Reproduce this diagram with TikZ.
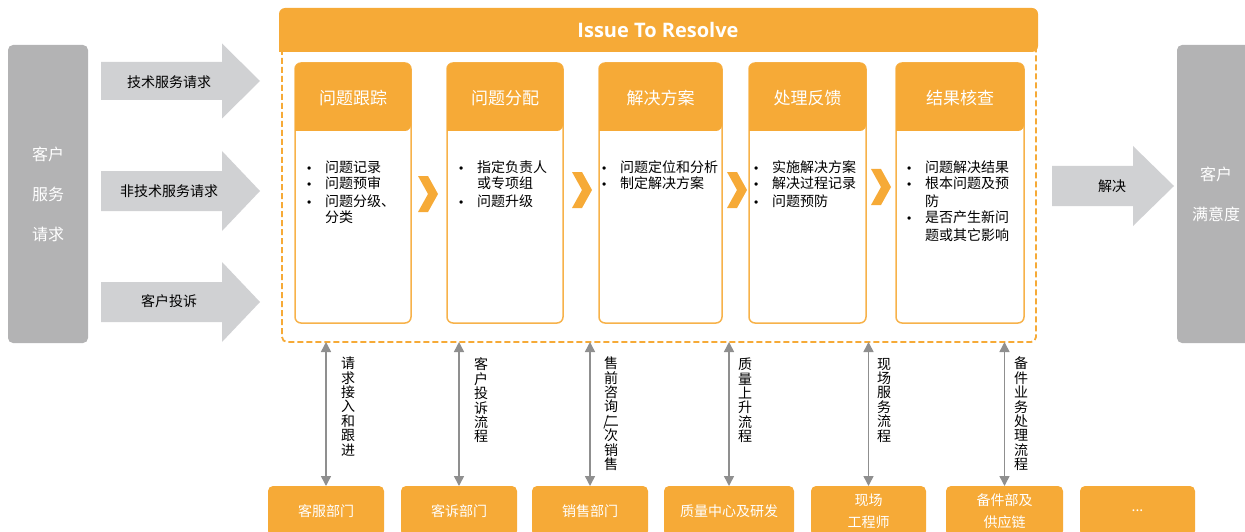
\documentclass[tikz,border=0pt]{standalone}
\usepackage{fontspec}
\setmainfont{Noto Sans CJK SC}
\newfontfamily\titlefont{Open Sans}
\newfontfamily\bulfont{Liberation Sans}
\usetikzlibrary{arrows.meta}
\definecolor{org}{HTML}{F6AA37}
\definecolor{orgline}{HTML}{F7B24A}
\definecolor{gbox}{HTML}{B3B3B4}
\definecolor{garrow}{HTML}{D0D1D3}
\definecolor{darr}{HTML}{8F8F8F}
\newcommand\bul{\makebox[17pt][l]{\hspace{-1pt}\bulfont\fontsize{12}{17}\selectfont\textbullet}}
\newcommand\nob{\makebox[17pt][l]{}}
\newcommand\blockarr[6]{\fill[garrow] (#1,#2-#4) -- (#3,#2-#4) -- (#3,#2-#5) -- (#6,#2) -- (#3,#2+#5) -- (#3,#2+#4) -- (#1,#2+#4) -- cycle;}
\newcommand\chev[2]{\fill[org] (#1,#2) -- ++(10,0) -- ++(10,18) -- ++(-10,18) -- ++(-10,0) -- ++(10,-18) -- cycle;}
\newcommand\cardhead[2]{\fill[org] (#1,131) [rounded corners=6pt] -- (#1,63) -- (#2,63) -- (#2,131) [sharp corners] -- cycle;}
\begin{document}
\begin{tikzpicture}[x=1pt,y=-1pt,
  every node/.style={inner sep=0pt, outer sep=0pt},
  sidebox/.style={fill=gbox, rounded corners=5pt, minimum width=80pt, minimum height=298pt, text=white, align=center, font=\fontsize{16}{40}\selectfont},
  alabel/.style={font=\fontsize{14}{17}\selectfont},
  card/.style={anchor=north west, minimum height=260pt, draw=orgline, line width=1.5pt, fill=white, rounded corners=6pt},
  ctitle/.style={text=white, font=\fontsize{17}{20}\selectfont},
  body/.style={anchor=base west, font=\fontsize{14}{17}\selectfont},
  vlab/.style={anchor=north, align=center, font=\fontsize{14}{14.4}\selectfont},
  dept/.style={anchor=north, fill=org, rounded corners=5pt, minimum height=50pt, text=white, align=center, font=\fontsize{14}{22}\selectfont},
  dbl/.style={draw=darr, line width=1.5pt, {Triangle[width=10pt,length=10pt]}-{Triangle[width=10pt,length=10pt]}}
]
\useasboundingbox (0,0) rectangle (1245,532);

% side boxes
\node[sidebox] (cust) at (48,194) {客户\\服务\\请求};
\node[sidebox, minimum width=78pt] (sat) at (1216,194) {客户\\满意度};

% input block arrows
\blockarr{101}{81}{222}{19}{37.5}{260}
\blockarr{101}{191}{222}{20}{40}{260}
\blockarr{101}{302}{222}{20}{40}{260}
\node[alabel] (a1) at (169,82) {技术服务请求};
\node[alabel] (a2) at (169,191) {非技术服务请求};
\node[alabel] (a3) at (169,301) {客户投诉};

% output block arrow
\blockarr{1052}{186}{1133}{20}{40}{1174}
\node[alabel] (a4) at (1112,186) {解决};

% frame and header
\draw[org, line width=1.8pt, dash pattern=on 6pt off 3pt, rounded corners=5pt] (282,40) -- (282,342) -- (1036,342) -- (1036,40);
\coordinate (fb) at (660,342);
\fill[org] (279,52) [rounded corners=6pt] -- (279,8) -- (1038,8) -- (1038,52) [sharp corners] -- cycle;
\node[text=white, font=\titlefont\bfseries\fontsize{20}{24}\selectfont] (hdr) at (658,30) {Issue To Resolve};

% cards
\node[card, minimum width=116pt] (c1) at (295,63) {};
\node[card, minimum width=116pt] (c2) at (447,63) {};
\node[card, minimum width=123pt] (c3) at (599,63) {};
\node[card, minimum width=117pt] (c4) at (749,63) {};
\node[card, minimum width=128pt] (c5) at (896,63) {};
\cardhead{295}{411}
\cardhead{447}{563}
\cardhead{599}{722}
\cardhead{749}{866}
\cardhead{896}{1024}
\node[ctitle] (t1) at (353,98) {问题跟踪};
\node[ctitle] (t2) at (505,98) {问题分配};
\node[ctitle] (t3) at (660.5,98) {解决方案};
\node[ctitle] (t4) at (807.5,98) {处理反馈};
\node[ctitle] (t5) at (960,98) {结果核查};

\node[body] (l1) at (308,172) {\begin{tabular}[t]{@{}l@{}}\bul 问题记录\\ \bul 问题预审\\ \bul 问题分级、\\ \nob 分类\end{tabular}};
\node[body] (l2) at (460,172) {\begin{tabular}[t]{@{}l@{}}\bul 指定负责人\\ \nob 或专项组\\ \bul 问题升级\end{tabular}};
\node[body] (l3) at (603,172) {\begin{tabular}[t]{@{}l@{}}\bul 问题定位和分析\\ \bul 制定解决方案\end{tabular}};
\node[body] (l4) at (755,172) {\begin{tabular}[t]{@{}l@{}}\bul 实施解决方案\\ \bul 解决过程记录\\ \bul 问题预防\end{tabular}};
\node[body] (l5) at (908,172) {\begin{tabular}[t]{@{}l@{}}\bul 问题解决结果\\ \bul 根本问题及预\\ \nob 防\\ \bul 是否产生新问\\ \nob 题或其它影响\end{tabular}};

% chevrons
\chev{418}{176}
\chev{572}{172}
\chev{727}{172}
\chev{871}{169}

% departments
\node[dept, minimum width=116pt] (d1) at (326,486) {客服部门};
\node[dept, minimum width=116pt] (d2) at (459,486) {客诉部门};
\node[dept, minimum width=116pt] (d3) at (590,486) {销售部门};
\node[dept, minimum width=130pt] (d4) at (729,486) {质量中心及研发};
\node[dept, minimum width=115pt] (d5) at (868.5,486) {现场\\工程师};
\node[dept, minimum width=117pt] (d6) at (1004.5,486) {备件部及\\供应链};
\node[dept, minimum width=115pt] (d7) at (1137.5,486) {...};

% connectors
\draw[dbl] (d1.north |- fb) -- (d1.north);
\draw[dbl] (d2.north |- fb) -- (d2.north);
\draw[dbl] (d3.north |- fb) -- (d3.north);
\draw[dbl] (d4.north |- fb) -- (d4.north);
\draw[dbl] (d5.north |- fb) -- (d5.north);
\draw[dbl] (d6.north |- fb) -- (d6.north);

% vertical labels
\node[vlab] (v1) at (348,357) {请\\求\\接\\入\\和\\跟\\进};
\node[vlab] (v2) at (481,358) {客\\户\\投\\诉\\流\\程};
\node[vlab] (v3) at (611,357) {售\\前\\咨\\询\\/\kern-4pt 二\\次\\销\\售};
\node[vlab] (v4) at (745,358) {质\\量\\上\\升\\流\\程};
\node[vlab] (v5) at (884,358) {现\\场\\服\\务\\流\\程};
\node[vlab] (v6) at (1021,357) {备\\件\\业\\务\\处\\理\\流\\程};
\end{tikzpicture}
\end{document}
